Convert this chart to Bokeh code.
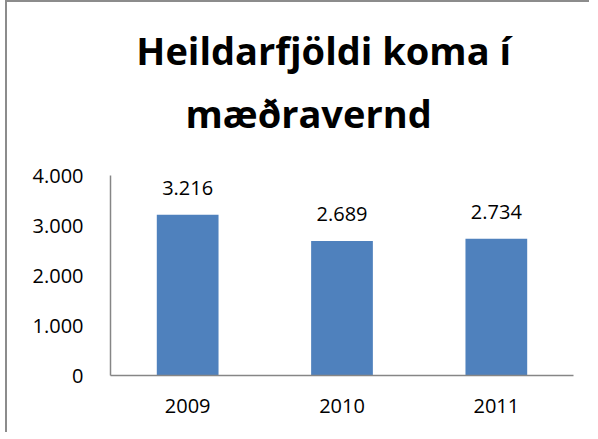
from bokeh.plotting import figure
from bokeh.layouts import column
from bokeh.models import ColumnDataSource, LabelSet, FixedTicker, Range1d
from bokeh.core.properties import value
from bokeh.embed import file_html
from bokeh.resources import INLINE

years = ["2009", "2010", "2011"]
visits = [3216, 2689, 2734]
visit_labels = ["3.216", "2.689", "2.734"]
y_ticks = [0, 1000, 2000, 3000, 4000]
y_tick_labels = ["0", "1.000", "2.000", "3.000", "4.000"]
title_lines = ["Heildarfjöldi koma í", "mæðravernd"]

FONT = "Open Sans"
AXIS_COLOR = "#868686"
W = 582
TITLE_H = 161

# ---- title strip (pixel coordinates, y downwards) ----
t = figure(width=W, height=TITLE_H, x_range=Range1d(0, W), y_range=Range1d(TITLE_H, 0),
           x_axis_type=None, y_axis_type=None, output_backend="svg", toolbar_location=None,
           min_border=0)
t.grid.grid_line_color = None
t.outline_line_color = None
t.border_fill_color = "white"
t.background_fill_color = "white"
title_src = ColumnDataSource(data=dict(x=[268, 249], y=[47, 110], text=title_lines))
t.text(x="x", y="y", text="text", source=title_src, text_align="center",
       text_baseline="alphabetic", text_font=value(FONT), text_font_size="38px",
       text_font_style="bold", text_color="black")

# ---- chart ----
source = ColumnDataSource(data=dict(years=years, visits=visits, labels=visit_labels))

p = figure(x_range=years, y_range=Range1d(0, 4000), width=W, height=269,
           output_backend="svg", toolbar_location=None,
           min_border_left=103, min_border_right=16, min_border_top=12, min_border_bottom=57)

p.vbar(x="years", top="visits", width=0.4, source=source, fill_color="#4F81BD", line_color=None)

labels = LabelSet(x="years", y="visits", text="labels", source=source, y_offset=20,
                  text_align="center", text_baseline="alphabetic",
                  text_font=value(FONT), text_font_size="20px", text_color="black")
p.add_layout(labels)

p.xgrid.grid_line_color = None
p.ygrid.grid_line_color = None
p.outline_line_color = None
p.background_fill_color = "white"
p.border_fill_color = "white"

p.yaxis.ticker = FixedTicker(ticks=y_ticks)
p.yaxis.major_label_overrides = {t_: l for t_, l in zip(y_ticks, y_tick_labels)}
for ax in (p.xaxis, p.yaxis):
    ax.axis_line_color = AXIS_COLOR
    ax.axis_line_width = 1.5
    ax.major_tick_line_color = None
    ax.minor_tick_line_color = None
    ax.major_tick_out = 0
    ax.major_tick_in = 0
    ax.major_label_text_font = FONT
    ax.major_label_text_font_size = "20px"
    ax.major_label_text_color = "black"
p.yaxis.major_label_standoff = 27
p.xaxis.major_label_standoff = 23

layout = column(t, p, spacing=0)
layout.styles = {"margin-left": "5px",
                 "border-left": "2px solid #8c8c8c", "border-top": "2px solid #8c8c8c"}

open("out.html", "w").write(file_html(layout, INLINE))
